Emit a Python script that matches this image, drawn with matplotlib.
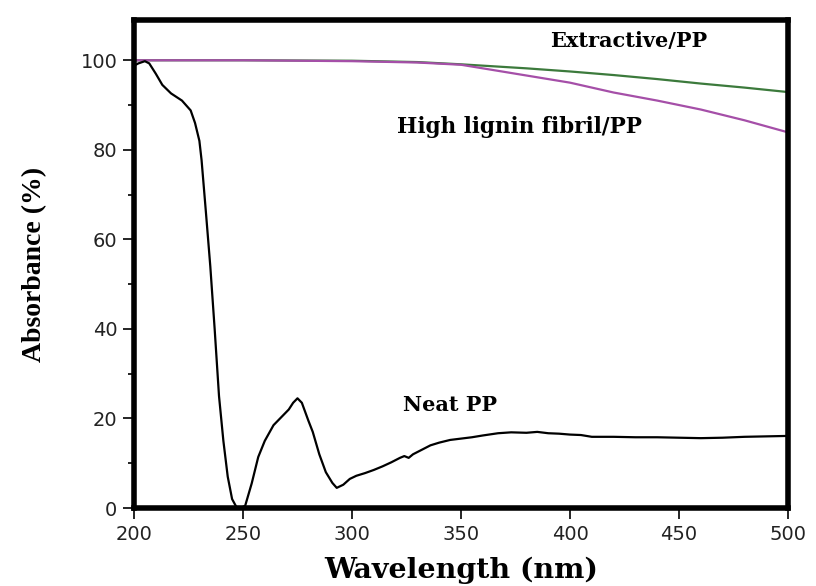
import matplotlib
matplotlib.use("Agg")
import matplotlib.pyplot as plt
from matplotlib.ticker import MultipleLocator

# Neat PP
wl_neat = [200, 202, 205, 207, 210, 213, 217, 222, 226, 228, 230, 231, 233, 235,
           237, 239, 241, 243, 245, 247, 249, 251, 254, 257, 260, 264, 268, 271,
           273, 275, 277, 280, 282, 285, 288, 291, 293, 296, 299, 302, 306, 310,
           314, 318, 322, 324, 326, 328, 332, 336, 340, 345, 350, 355, 360, 367,
           373, 380, 385, 390, 395, 400, 405, 410, 420, 430, 440, 450, 460, 470,
           480, 490, 500]
neat_pp = [98.8, 99.3, 99.8, 99.3, 97.0, 94.5, 92.6, 91.0, 88.8, 86.0, 82.0, 77.7,
           66.0, 54.0, 40.0, 25.0, 15.0, 7.0, 2.0, 0.2, 0.0, 0.5, 5.5, 11.4, 15.0,
           18.5, 20.5, 22.0, 23.5, 24.5, 23.5, 19.5, 17.0, 12.0, 8.0, 5.6, 4.5, 5.2,
           6.5, 7.2, 7.8, 8.5, 9.3, 10.2, 11.2, 11.6, 11.2, 12.0, 13.0, 14.0, 14.6,
           15.2, 15.5, 15.8, 16.2, 16.7, 16.9, 16.8, 17.0, 16.7, 16.6, 16.4, 16.3,
           15.9, 15.9, 15.8, 15.8, 15.7, 15.6, 15.7, 15.9, 16.0, 16.1]

# filled films
wl_film = [200, 250, 300, 330, 350, 360, 380, 400, 420, 440, 460, 480, 500]
extractive_pp = [100, 100, 99.9, 99.6, 99.1, 98.8, 98.2, 97.5, 96.7, 95.8, 94.8, 93.9, 92.9]
lignin_pp = [100, 100, 99.8, 99.5, 99.0, 98.2, 96.6, 95.0, 92.8, 91.0, 89.0, 86.6, 83.9]

xticks = [200, 250, 300, 350, 400, 450, 500]
yticks = [0, 20, 40, 60, 80, 100]

fig = plt.figure(figsize=(8.16, 5.86), dpi=100)
ax = fig.add_axes([0.1642, 0.1331, 0.8015, 0.8328])

ax.plot(wl_film, extractive_pp, color='#3c7a3c', lw=1.6)
ax.plot(wl_film, lignin_pp, color='#a54fa8', lw=1.6)
ax.plot(wl_neat, neat_pp, color='black', lw=1.6)

ax.set_xlim(200, 500)
ax.set_ylim(0, 109)
ax.set_xticks(xticks)
ax.set_yticks(yticks)
ax.yaxis.set_minor_locator(MultipleLocator(10))

for s in ax.spines.values():
    s.set_linewidth(4)
ax.tick_params(axis='both', which='major', direction='out', length=8, width=1.2,
               labelsize=14, labelcolor='#222222', pad=4)
ax.tick_params(axis='y', which='minor', direction='out', length=4, width=1.2)

ax.set_xlabel('Wavelength (nm)', fontsize=20.5, fontweight='bold',
              family='DejaVu Serif', labelpad=9)
ax.set_ylabel('Absorbance (%)', fontsize=20, fontweight='bold',
              family='Liberation Serif', labelpad=24)

tkw = dict(fontsize=15, fontweight='bold', family='DejaVu Serif', ha='center', va='center')
ax.text(427, 104.3, 'Extractive/PP', **tkw)
ax.text(377, 85, 'High lignin fibril/PP', fontsize=15.5, fontweight='bold',
        family='DejaVu Serif', ha='center', va='center')
ax.text(345, 23, 'Neat PP', **tkw)

fig.savefig('out.png', dpi=100)
